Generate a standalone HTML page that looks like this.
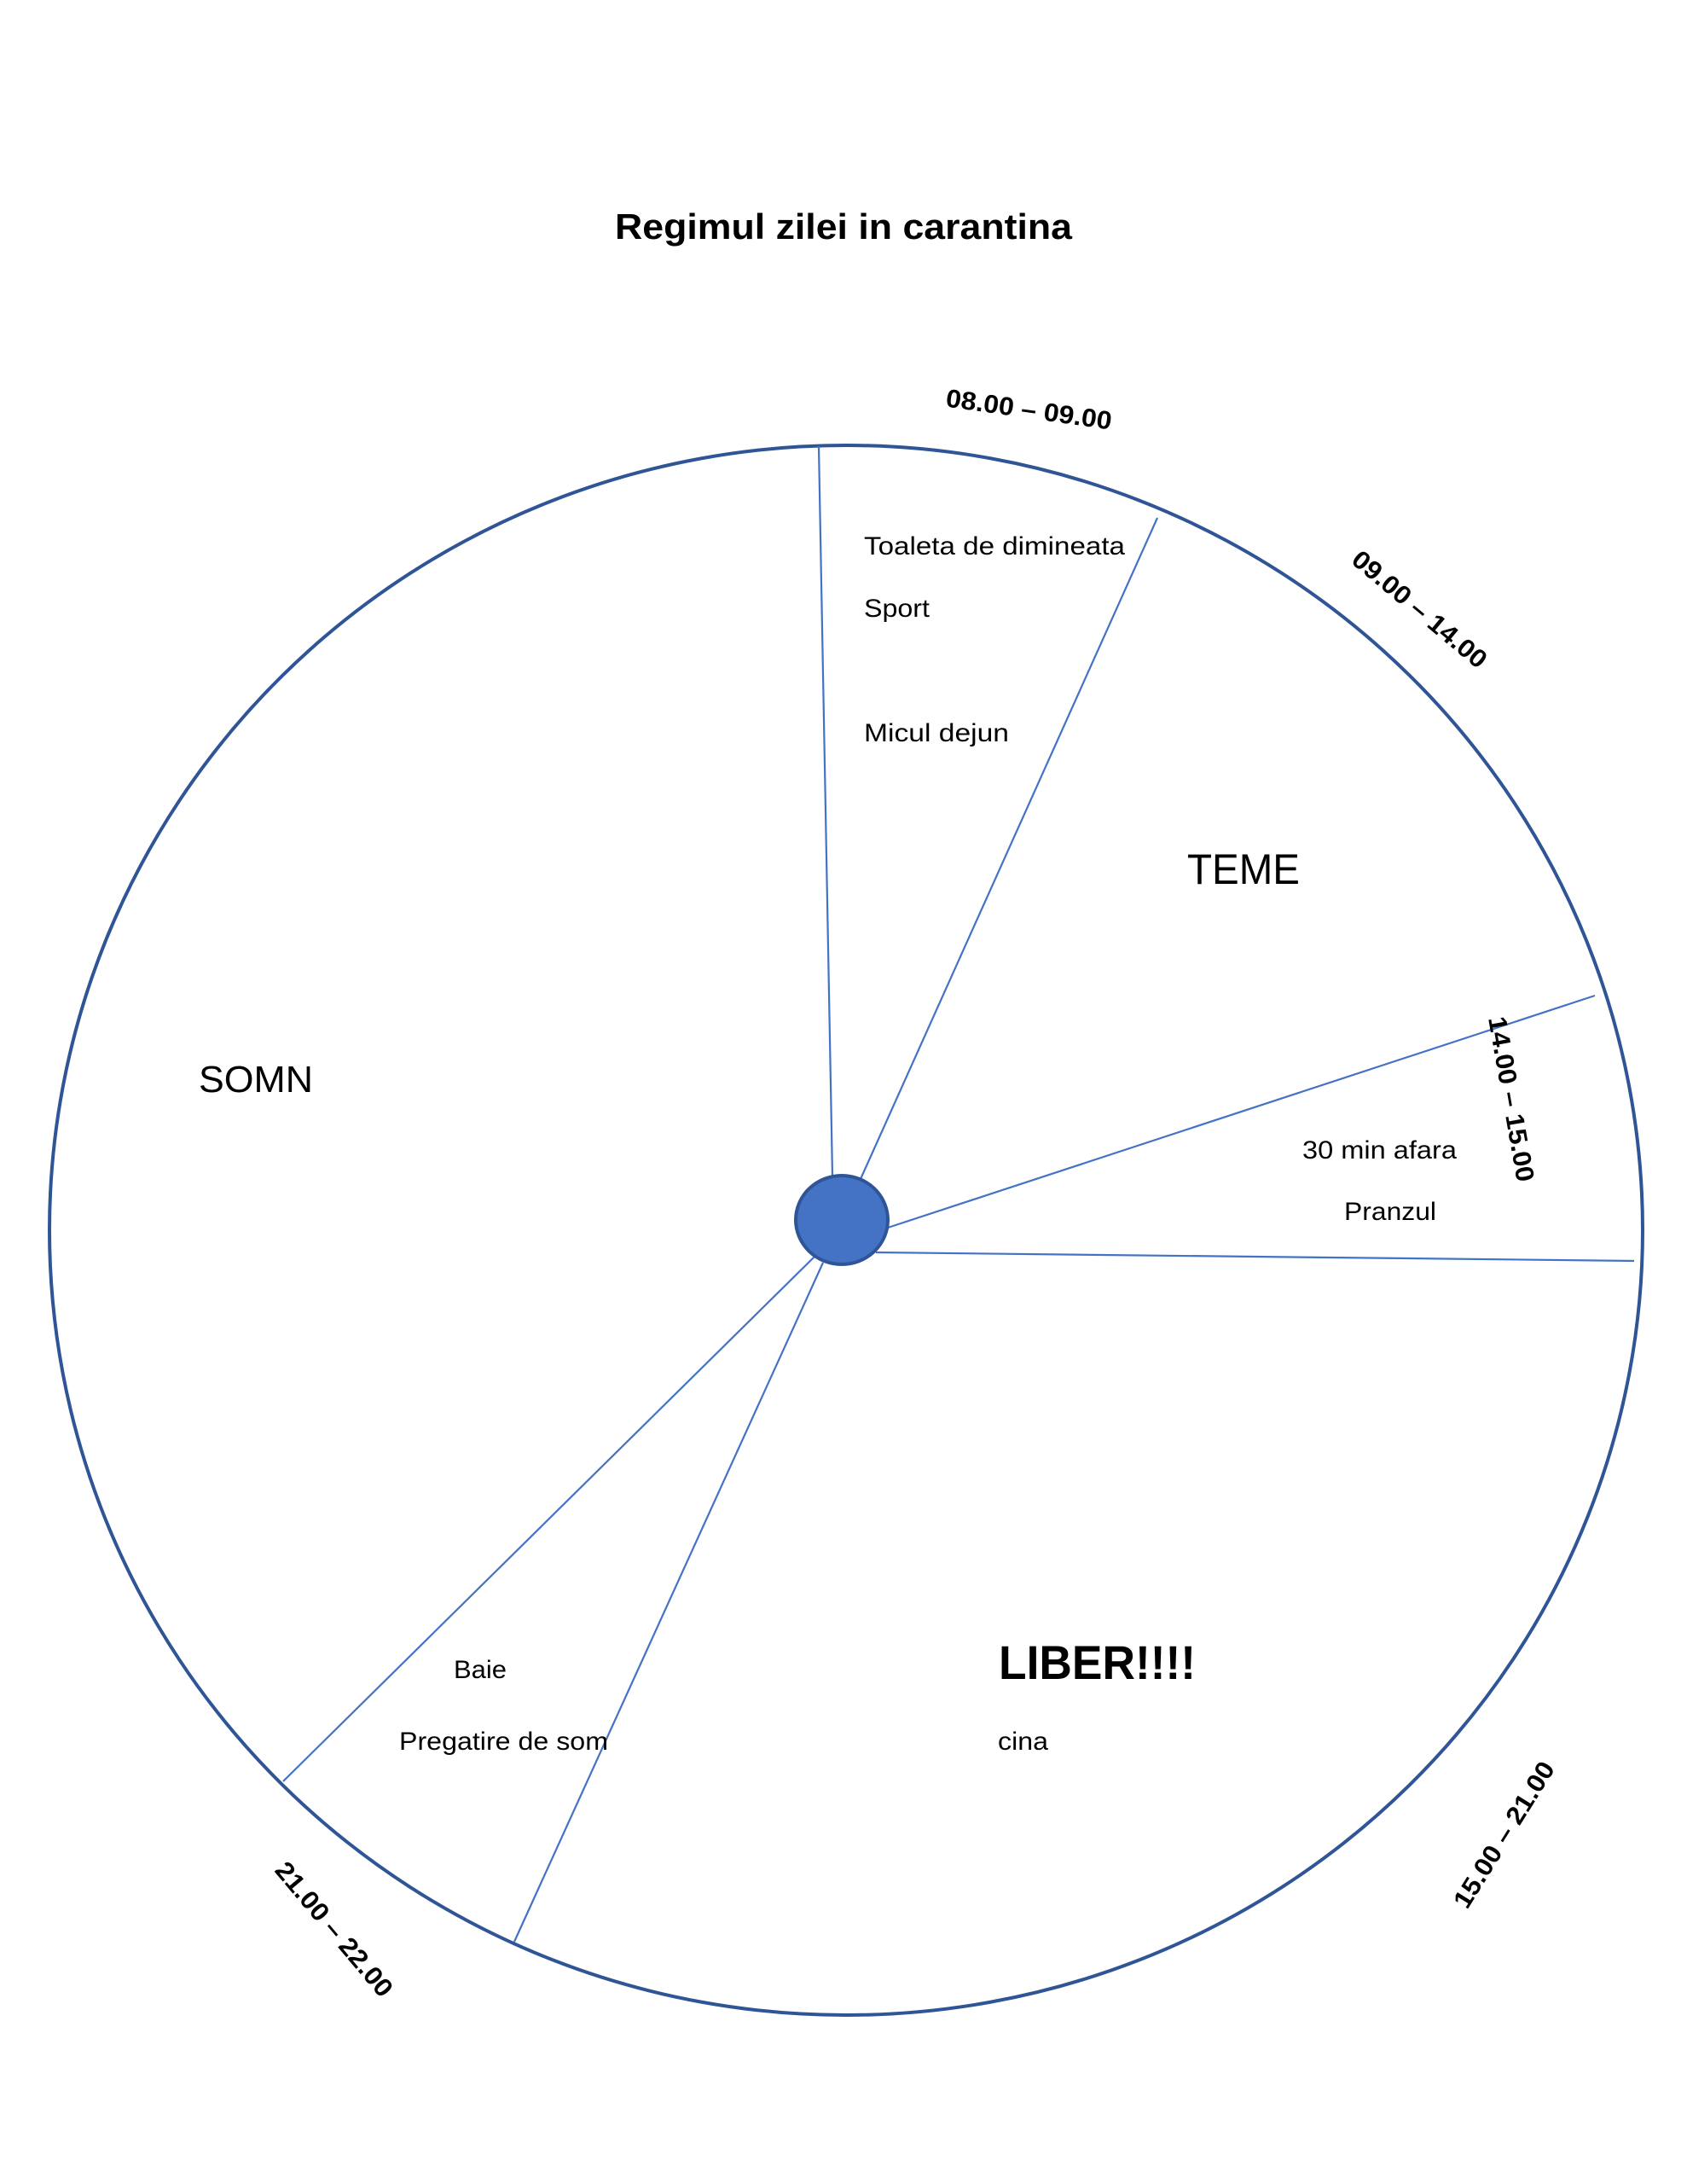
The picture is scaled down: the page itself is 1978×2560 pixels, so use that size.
<!DOCTYPE html>
<html><head><meta charset="utf-8"><style>
html,body{margin:0;padding:0;background:#fff;}
svg{display:block;}
text{font-family:"Liberation Sans",sans-serif;fill:#000;}
</style></head><body>
<svg width="1978" height="2560" viewBox="0 0 1978 2560" xmlns="http://www.w3.org/2000/svg">
<rect width="1978" height="2560" fill="#fff"/>
<text x="989" y="280" text-anchor="middle" font-size="42" font-weight="bold" textLength="536" lengthAdjust="spacingAndGlyphs">Regimul zilei in carantina</text>
<ellipse cx="992" cy="1442" rx="934" ry="920" fill="none" stroke="#2F5597" stroke-width="4"/>
<g stroke="#4472C4" stroke-width="2.2">
<line x1="976" y1="1378" x2="960" y2="523"/>
<line x1="1009" y1="1382" x2="1357" y2="607"/>
<line x1="1041" y1="1439" x2="1870" y2="1167"/>
<line x1="1027" y1="1468" x2="1916" y2="1478"/>
<line x1="956" y1="1472" x2="332" y2="2088"/>
<line x1="965" y1="1480" x2="603" y2="2276"/>
</g>
<ellipse cx="987" cy="1430" rx="54" ry="52" fill="#4472C4" stroke="#2F5597" stroke-width="4"/>
<g font-size="30">
<text x="1013" y="650" textLength="306" lengthAdjust="spacingAndGlyphs">Toaleta de dimineata</text>
<text x="1013" y="723" textLength="77" lengthAdjust="spacingAndGlyphs">Sport</text>
<text x="1013" y="869" textLength="170" lengthAdjust="spacingAndGlyphs">Micul dejun</text>
<text x="1527" y="1358" textLength="181" lengthAdjust="spacingAndGlyphs">30 min afara</text>
<text x="1576" y="1430" textLength="108" lengthAdjust="spacingAndGlyphs">Pranzul</text>
<text x="532" y="1967" textLength="62" lengthAdjust="spacingAndGlyphs">Baie</text>
<text x="468" y="2051" textLength="245" lengthAdjust="spacingAndGlyphs">Pregatire de som</text>
<text x="1170" y="2051" textLength="59" lengthAdjust="spacingAndGlyphs">cina</text>
</g>
<text x="1392" y="1036" font-size="50" textLength="132" lengthAdjust="spacingAndGlyphs">TEME</text>
<text x="233" y="1280" font-size="44" textLength="134" lengthAdjust="spacingAndGlyphs">SOMN</text>
<text x="1171" y="1968" font-size="56" font-weight="bold" textLength="231" lengthAdjust="spacingAndGlyphs">LIBER!!!!</text>
<g font-size="30" font-weight="bold" text-anchor="middle">
<text transform="translate(1205,490) rotate(8)" textLength="196" lengthAdjust="spacingAndGlyphs">08.00 – 09.00</text>
<text transform="translate(1658,722) rotate(40)" textLength="196" lengthAdjust="spacingAndGlyphs">09.00 – 14.00</text>
<text transform="translate(1762,1290) rotate(80)" textLength="196" lengthAdjust="spacingAndGlyphs">14.00 – 15.00</text>
<text transform="translate(1772,2156) rotate(-58)" textLength="196" lengthAdjust="spacingAndGlyphs">15.00 – 21.00</text>
<text transform="translate(384,2268) rotate(50)" textLength="196" lengthAdjust="spacingAndGlyphs">21.00 – 22.00</text>
</g>
</svg>
</body></html>
